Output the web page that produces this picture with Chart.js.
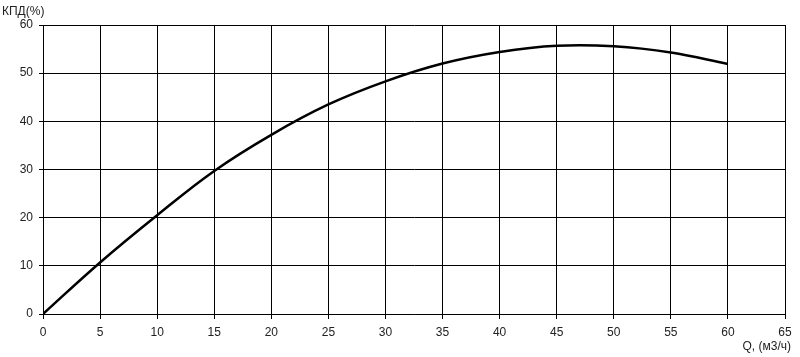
<!DOCTYPE html>
<html>
<head>
<meta charset="utf-8">
<script src="https://cdn.jsdelivr.net/npm/chart.js@4/dist/chart.umd.min.js"></script>
<style>
  html, body { margin: 0; padding: 0; background: #fff; }
  #chart { display: block; }
</style>
</head>
<body>
<canvas id="chart" width="800" height="357"></canvas>
<script>
// Q, м3/ч
const flowValues = [0, 5, 10, 15, 20, 25, 30, 35, 40, 45, 50, 55, 60];
// КПД, %
const efficiencyValues = [0, 10.7, 20.5, 29.7, 37.2, 43.5, 48.3, 52.0, 54.4, 55.7, 55.6, 54.3, 51.9];

const yAxisLabel = 'КПД(%)';
const xAxisLabel = 'Q, (м3/ч)';

const points = flowValues.map((q, i) => ({ x: q, y: efficiencyValues[i] }));

// подписи осей рисуем сами — у оригинала они стоят не по центру
const axisLabels = {
    id: 'axisLabels',
    afterDraw(chart) {
        const ctx = chart.ctx;
        ctx.save();
        ctx.font = '12px "Liberation Sans", Arial, sans-serif';
        ctx.fillStyle = '#222';
        ctx.textBaseline = 'middle';
        ctx.textAlign = 'left';
        ctx.fillText(yAxisLabel, 2, 12);
        ctx.textAlign = 'right';
        ctx.fillText(xAxisLabel, 791, 347);
        ctx.restore();
    }
};

new Chart(document.getElementById('chart').getContext('2d'), {
    type: 'line',
    data: {
        datasets: [{
            data: points,
            borderColor: '#000',
            borderWidth: 2.5,
            pointRadius: 0,
            fill: false,
            tension: 0.4
        }]
    },
    options: {
        responsive: false,
        animation: false,
        layout: { padding: { top: 25, right: 15, left: 0, bottom: 0 } },
        plugins: {
            legend: { display: false },
            tooltip: { enabled: false }
        },
        scales: {
            x: {
                type: 'linear',
                min: 0,
                max: 65,
                ticks: {
                    stepSize: 5,
                    color: '#222',
                    font: { family: '"Liberation Sans", Arial, sans-serif', size: 12 },
                    padding: 6,
                    maxRotation: 0
                },
                grid: { color: '#000', lineWidth: 1, tickLength: 5 },
                border: { color: '#000', width: 1 },
                afterFit: (scale) => { scale.height = 43; }
            },
            y: {
                min: 0,
                max: 60,
                ticks: {
                    stepSize: 10,
                    color: '#222',
                    font: { family: '"Liberation Sans", Arial, sans-serif', size: 12 },
                    padding: 6
                },
                grid: { color: '#000', lineWidth: 1, tickLength: 4 },
                border: { color: '#000', width: 1 },
                afterFit: (scale) => { scale.width = 43; }
            }
        }
    },
    plugins: [axisLabels]
});
</script>
</body>
</html>
